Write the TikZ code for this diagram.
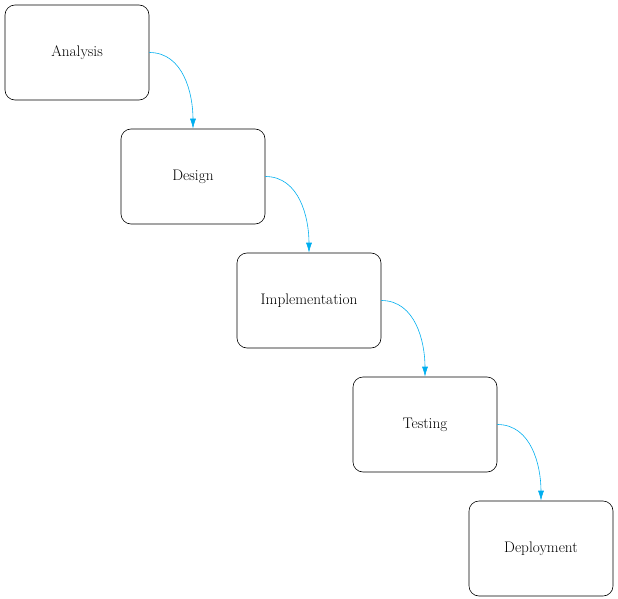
\documentclass[tikz,border=0pt]{standalone}
\usetikzlibrary{arrows.meta}
\definecolor{flowblue}{RGB}{0,174,239}
\begin{document}
\begin{tikzpicture}[x=1pt,y=-1pt,
  stage/.style={draw=black, line width=0.6pt, rounded corners=10pt, minimum width=144pt, minimum height=95pt, inner sep=0pt, font=\fontsize{15.3}{17}\selectfont},
  flow/.style={draw=flowblue, line width=0.6pt, -{Latex[length=10pt,width=6pt]}}]
\useasboundingbox (0,0) rectangle (618,599);
\node[stage] (a) at (77,52.5) {Analysis};
\node[stage] (d) at (193,176.5) {Design};
\node[stage] (i) at (309,300.5) {Implementation};
\node[stage] (t) at (425,424.5) {Testing};
\node[stage] (p) at (541,548.5) {Deployment};
\draw[flow] (a.east) to[out=0,in=90] (d.north);
\draw[flow] (d.east) to[out=0,in=90] (i.north);
\draw[flow] (i.east) to[out=0,in=90] (t.north);
\draw[flow] (t.east) to[out=0,in=90] (p.north);
\end{tikzpicture}
\end{document}
